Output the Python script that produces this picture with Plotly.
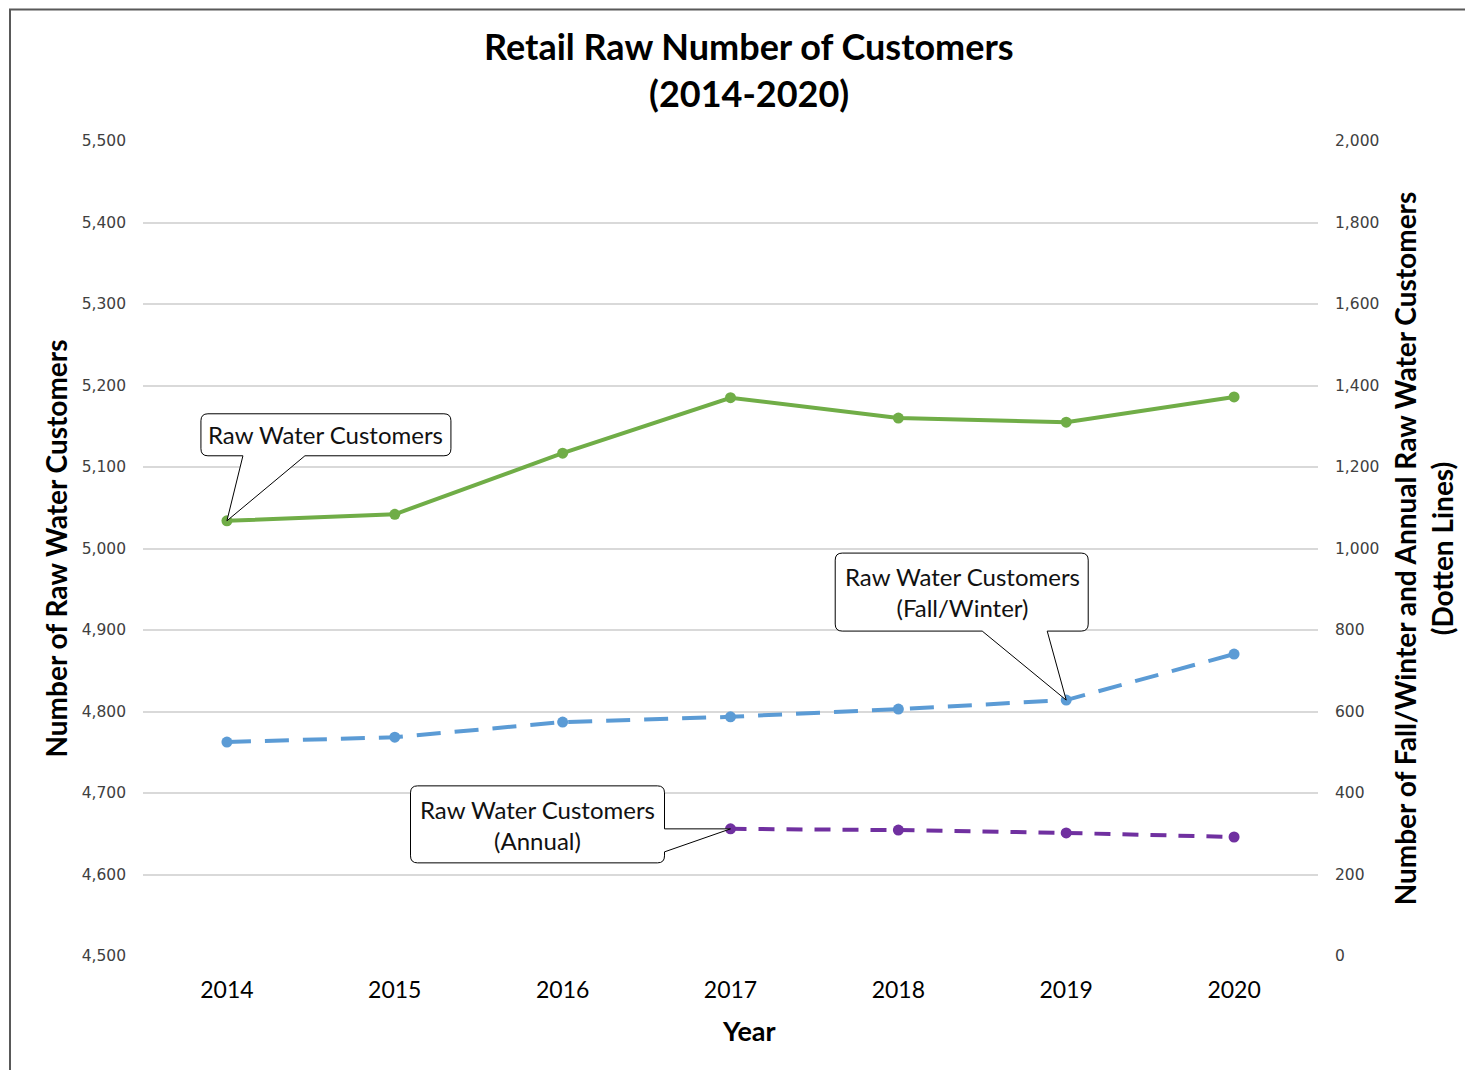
import plotly.graph_objects as go

years = [2014, 2015, 2016, 2017, 2018, 2019, 2020]
raw_total = [5034, 5042, 5117, 5185, 5160, 5155, 5186]
fall_winter = [525, 537, 574, 587, 606, 628, 741]
annual_years = [2017, 2018, 2019, 2020]
annual = [312, 309, 302, 292]
left_ticks = list(range(4500, 5501, 100))
right_ticks = list(range(0, 2001, 200))

GREEN = "#70AD47"
BLUE = "#5B9BD5"
PURPLE = "#7030A0"
TEXT = "#000000"
TICK = "#404040"
FONT = "Lato"

fig = go.Figure()
fig.add_trace(go.Scatter(x=years, y=raw_total, mode="lines+markers",
                         line=dict(color=GREEN, width=4),
                         marker=dict(size=11, color=GREEN),
                         name="Raw Water Customers", yaxis="y"))
fig.add_trace(go.Scatter(x=years, y=fall_winter, mode="lines+markers",
                         line=dict(color=BLUE, width=4, dash="24px,14px"),
                         marker=dict(size=11, color=BLUE),
                         name="Raw Water Customers (Fall/Winter)", yaxis="y2"))
fig.add_trace(go.Scatter(x=annual_years, y=annual, mode="lines+markers",
                         line=dict(color=PURPLE, width=4, dash="16px,12px"),
                         marker=dict(size=11, color=PURPLE),
                         name="Raw Water Customers (Annual)", yaxis="y2"))


def callout(x0, x1, yb, yt, r, tail):
    p = [f"M{x0+r},{yt}", f"L{x1-r},{yt}", f"Q{x1},{yt} {x1},{yt-r}"]
    if tail[0] == "right":
        p += [f"L{x1},{tail[1]}", "L0,0", f"L{x1},{tail[2]}"]
    p += [f"L{x1},{yb+r}", f"Q{x1},{yb} {x1-r},{yb}"]
    if tail[0] == "bottom":
        p += [f"L{tail[2]},{yb}", "L0,0", f"L{tail[1]},{yb}"]
    p += [f"L{x0+r},{yb}", f"Q{x0},{yb} {x0},{yb+r}", f"L{x0},{yt-r}",
          f"Q{x0},{yt} {x0+r},{yt}", "Z"]
    return " ".join(p)


shapes = []
annotations = []

callouts = [
    dict(x=years[0], y=raw_total[0], yref="y", box=(-26, 224, 65, 107),
         tail=("bottom", 16, 78), text="Raw Water Customers", tx=99, ty=86),
    dict(x=years[5], y=fall_winter[5], yref="y2", box=(-231, 22, 69, 147),
         tail=("bottom", -84, -19), text="Raw Water Customers<br>(Fall/Winter)", tx=-104, ty=108),
    dict(x=annual_years[0], y=annual[0], yref="y2", box=(-320, -66, -34, 43),
         tail=("right", 0, -23), text="Raw Water Customers<br>(Annual)", tx=-193, ty=4),
]
for c in callouts:
    x0, x1, yb, yt = c["box"]
    shapes.append(dict(type="path", xref="x", yref=c["yref"], xsizemode="pixel",
                       ysizemode="pixel", xanchor=c["x"], yanchor=c["y"],
                       path=callout(x0, x1, yb, yt, 7, c["tail"]),
                       fillcolor="white", line=dict(color="black", width=1),
                       layer="above"))
    annotations.append(dict(x=c["x"], y=c["y"], xref="x", yref=c["yref"],
                            xshift=c["tx"], yshift=c["ty"], showarrow=False,
                            text=c["text"], align="center",
                            font=dict(family=FONT, size=24, color="#111111")))

# page offset (browser body margin) is 8px
OFF = 8
L, R, T, B = 143, 155, 141, 114
PW, PH = 1473 - L - R, 1070 - T - B


def px_x(p):
    return (p - L) / PW


def px_y(p):
    return (1070 - B - p) / PH


annotations.append(dict(xref="paper", yref="paper", x=px_x(749), y=px_y(46),
                        xanchor="center", yanchor="middle", showarrow=False,
                        text="<b>Retail Raw Number of Customers</b>",
                        font=dict(family=FONT, size=36, color=TEXT)))
annotations.append(dict(xref="paper", yref="paper", x=px_x(749), y=px_y(93),
                        xanchor="center", yanchor="middle", showarrow=False,
                        text="<b>(2014-2020)</b>",
                        font=dict(family=FONT, size=36, color=TEXT)))
annotations.append(dict(xref="paper", yref="paper", x=px_x(749), y=px_y(1031),
                        xanchor="center", yanchor="middle", showarrow=False,
                        text="<b>Year</b>",
                        font=dict(family=FONT, size=27, color=TEXT)))

# outer frame
shapes.append(dict(type="rect", xref="paper", yref="paper",
                   x0=px_x(10), x1=px_x(1490), y0=px_y(1090), y1=px_y(9.5),
                   line=dict(color="#595959", width=2), fillcolor="rgba(0,0,0,0)",
                   layer="below"))

fig.update_layout(
    width=1473 - OFF, height=1070 - OFF,
    margin=dict(l=L - OFF, r=R, t=T - OFF, b=B),
    paper_bgcolor="white", plot_bgcolor="white",
    showlegend=False,
    xaxis=dict(range=[2013.5, 2020.5], tickvals=years, ticktext=[str(y) for y in years],
               showgrid=False, zeroline=False, showline=False,
               tickfont=dict(family=FONT, size=23, color=TEXT),
               ticklabelstandoff=18),
    yaxis=dict(range=[4500, 5500], tickvals=left_ticks,
               ticktext=[f"{v:,}" for v in left_ticks],
               showgrid=True, gridcolor="#D9D9D9", gridwidth=1.5,
               zeroline=False, showline=False,
               tickfont=dict(family="DejaVu Sans", size=15.5, color=TICK),
               ticklabelstandoff=16,
               title=dict(text="<b>Number of Raw Water Customers</b>",
                          font=dict(family=FONT, size=28, color=TEXT), standoff=5)),
    yaxis2=dict(range=[0, 2000], tickvals=right_ticks,
                ticktext=[f"{v:,}" for v in right_ticks],
                overlaying="y", side="right", showgrid=False, zeroline=False,
                showline=False,
                tickfont=dict(family="DejaVu Sans", size=15.5, color=TICK),
                ticklabelstandoff=16,
                title=dict(text="<b>Number of Fall/Winter and Annual Raw Water Customers<br>(Dotten Lines)</b>",
                           font=dict(family=FONT, size=28, color=TEXT), standoff=18)),
    shapes=shapes,
    annotations=annotations,
)

fig.write_html("out.html")
